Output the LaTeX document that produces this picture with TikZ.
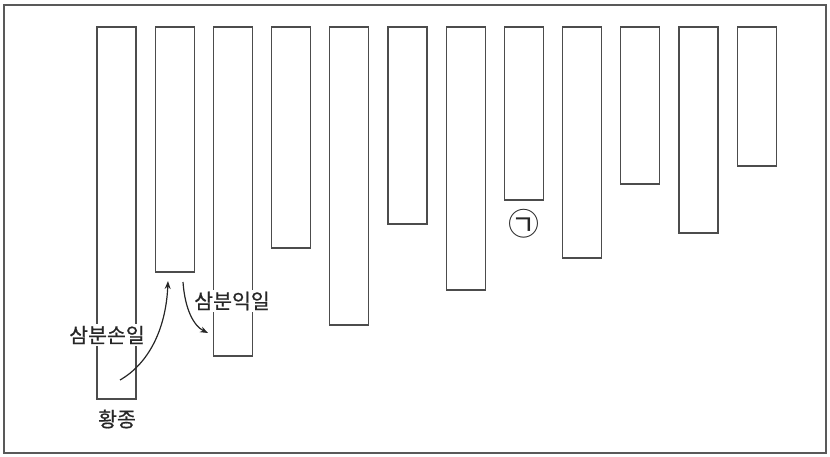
\documentclass[tikz,border=0pt]{standalone}
\usepackage{fontspec}
\newfontfamily\kr[FakeBold=0.6]{Noto Sans CJK KR}
\newfontfamily\krc{Noto Sans CJK KR}
\usetikzlibrary{arrows.meta}
\begin{document}
\begin{tikzpicture}[x=1pt,y=-1pt,
  bar/.style={draw=black!70, line width=1.1pt, minimum width=39pt, inner sep=0pt, outer sep=0pt, anchor=north west},
  lab/.style={font=\kr\fontsize{20.5}{21}\selectfont, inner sep=1.5pt, fill=white, text=black!85},
  arr/.style={-{Stealth[length=8pt,width=6pt]}, line width=1.2pt, black!85}]
\useasboundingbox (0,0) rectangle (830,457);
\draw[line width=1.4pt, black!65] (4,5) rectangle (826,453);
\foreach \i/\b in {1/399,2/272,3/356,4/248,5/325,6/224,7/290,8/200,9/258,10/184,11/233,12/166}{
  \node[bar, minimum height={\b-27}] (b\i) at ({97+58.2*(\i-1)},27) {};
}
\node[lab] (hw) at (117,419) {황종};
\node[lab] (ss) at (107,335) {삼분손일};
\node[lab] (si) at (232,301) {삼분익일};
\node[font=\krc\fontsize{31}{31}\selectfont, inner sep=0pt, text=black!85] (g) at (524,224) {㉠};
\coordinate (s1) at (120,380);
\coordinate (t1) at (168,281);
\coordinate (s2) at (183,282);
\coordinate (t2) at (208,333);
\draw[arr] (s1) .. controls (148,364) and (166,330) .. (t1);
\draw[arr] (s2) .. controls (185,310) and (194,326) .. (t2);
\end{tikzpicture}
\end{document}
